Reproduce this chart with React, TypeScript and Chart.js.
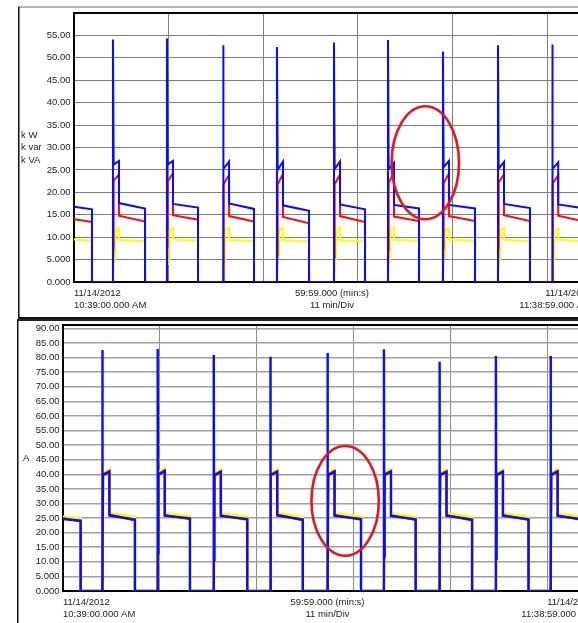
import React, { useEffect, useRef } from 'react';
import { Chart, registerables } from 'chart.js';

Chart.register(...registerables);

const FONT = '"Liberation Sans", Arial, sans-serif';

// ---- shared axis text ----
const startLabel = ['11/14/2012', '10:39:00.000 AM'];
const midLabel = ['59:59.000 (min:s)', '11 min/Div'];
const endLabel = ['11/14/2012', '11:38:59.000 AM'];
const xGridMinutes = [0, 11, 22, 33, 44, 55];

// ---- power panel (kW / kvar / kVA) ----
const powerTitle = ['k W', 'k var', 'k VA'];
const powerTicks = [0, 5, 10, 15, 20, 25, 30, 35, 40, 45, 50, 55];
const powerOn = [4.53, 10.81, 17.33, 23.6, 30.23, 36.51, 42.9, 49.3, 55.6];
const powerOff = [2.09, 8.26, 14.42, 20.93, 27.33, 33.84, 40.12, 46.63, 53.02, 59.4];

const kvaInitial = [16.8, 16.2];
const kvaPeak = [54.1, 54.3, 52.8, 52.4, 53.4, 54.0, 51.4, 52.8, 53.0];
const kvaHighStart = [26.2, 26.2, 25.2, 25.0, 25.2, 25.2, 25.6, 25.3, 25.2];
const kvaHighEnd = [27.0, 27.0, 26.9, 26.9, 26.9, 26.6, 27.0, 26.8, 26.7];
const kvaLowStart = [17.6, 17.4, 17.5, 17.1, 17.3, 17.2, 17.2, 17.4, 17.3];
const kvaLowEnd = [16.4, 16.6, 16.3, 15.9, 16.2, 16.4, 16.4, 16.5, 16.4];

const kwInitial = [14.0, 13.4];
const kwDip = [7.6, 7.8, 6.5, 6.0, 5.6, 7.2, 7.5, 7.6, 7.2];
const kwHighStart = [22.6, 22.4, 21.8, 21.8, 21.8, 22.2, 22.0, 22.2, 22.0];
const kwHighEnd = [24.0, 24.3, 23.9, 24.1, 24.0, 24.3, 24.2, 24.0, 23.8];
const kwLowStart = [14.8, 14.9, 14.7, 14.5, 14.7, 14.6, 14.7, 14.9, 14.8];
const kwLowEnd = [13.5, 13.9, 13.5, 13.1, 13.4, 13.6, 13.6, 13.6, 13.5];

const kvarInitial = [9.5, 9.2];
const kvarRise = [4.5, 4.0, 4.5, 5.5, 5.0, 4.5, 5.5, 5.0, 5.0];
const kvarHighStart = [11.3, 11.5, 11.6, 11.6, 11.5, 11.7, 11.6, 11.6, 11.6];
const kvarHighEnd = [12.0, 12.0, 12.1, 12.0, 12.1, 12.1, 12.0, 12.0, 12.0];
const kvarLowStart = [9.4, 9.5, 9.4, 9.4, 9.3, 9.4, 9.4, 9.4, 9.4];
const kvarLowEnd = [9.1, 9.2, 9.1, 9.0, 9.1, 9.2, 9.2, 9.1, 9.1];

const powerMarker = [40.85, 26.6, 3.92, 12.6]; // centre x (min), centre y, radius x (min), radius y

// ---- current panel (A) ----
const ampTitle = ['A'];
const ampTicks = [0, 5, 10, 15, 20, 25, 30, 35, 40, 45, 50, 55, 60, 65, 70, 75, 80, 85, 90];
const ampOn = [4.46, 10.74, 17.1, 23.5, 30.0, 36.4, 42.7, 49.1, 55.3];
const ampOff = [2.0, 8.16, 14.4, 20.9, 27.2, 33.8, 40.0, 46.4, 52.8, 59.1];

const ampBlueInitial = [24.7, 24.1];
const ampBluePeak = [82.6, 83.0, 80.9, 80.3, 81.6, 82.9, 78.6, 80.6, 80.6];
const ampBlueDip = [16.9, 13.0, 10.6, 16.5, 10.6, 11.8, 11.0, 11.0, 11.3];
const ampBlueHighStart = [39.7, 39.9, 39.6, 39.7, 39.7, 39.8, 39.7, 39.7, 39.8];
const ampBlueHighEnd = [40.9, 41.1, 40.8, 40.8, 40.9, 40.9, 40.8, 40.8, 40.9];
const ampBlueLowStart = [25.9, 25.8, 25.7, 25.9, 25.8, 25.7, 25.8, 25.8, 25.7];
const ampBlueLowEnd = [24.5, 24.9, 24.7, 24.5, 24.7, 24.6, 24.5, 24.6, 24.5];

const ampRedInitial = [25.0, 23.8];
const ampRedHighStart = [40.0, 40.2, 39.9, 40.0, 40.0, 40.1, 40.0, 40.0, 40.1];
const ampRedHighEnd = [41.2, 41.4, 41.1, 41.1, 41.2, 41.2, 41.1, 41.1, 41.2];
const ampRedLowStart = [26.2, 26.1, 26.0, 26.2, 26.1, 26.0, 26.1, 26.1, 26.0];
const ampRedLowEnd = [24.2, 24.6, 24.4, 24.2, 24.4, 24.3, 24.2, 24.3, 24.2];

const ampYellowInitial = [25.5, 24.9];
const ampYellowHighStart = [40.6, 40.7, 40.4, 40.5, 40.5, 40.6, 40.5, 40.5, 40.6];
const ampYellowHighEnd = [41.7, 41.9, 41.6, 41.6, 41.7, 41.7, 41.6, 41.6, 41.7];
const ampYellowLowStart = [26.8, 26.7, 26.6, 26.8, 26.7, 26.6, 26.7, 26.7, 26.6];
const ampYellowLowEnd = [25.3, 25.7, 25.5, 25.3, 25.5, 25.4, 25.3, 25.4, 25.3];

const ampMarker = [32.0, 30.9, 3.82, 18.8];

// ---- series builder ----
type Pt = { x: number; y: number };
interface Shape {
  initial: number[];
  peak?: number[];
  dip?: number[];
  rise?: number[];
  highStart: number[];
  highEnd: number[];
  lowStart: number[];
  lowEnd: number[];
}

function buildSeries(on: number[], off: number[], highDur: number, riseDelay: number, s: Shape): Pt[] {
  const pts: Pt[] = [
    { x: 0, y: s.initial[0] },
    { x: off[0], y: s.initial[1] },
    { x: off[0], y: 0 },
  ];
  on.forEach((t, i) => {
    pts.push({ x: t, y: 0 });
    let hs = t + 0.08;
    if (s.peak) pts.push({ x: t, y: s.peak[i] });
    if (s.dip) pts.push({ x: t + 0.04, y: s.dip[i] });
    if (s.rise) {
      pts.push({ x: t, y: s.rise[i] });
      pts.push({ x: t + riseDelay, y: s.rise[i] });
      hs = t + riseDelay;
    }
    pts.push({ x: hs, y: s.highStart[i] });
    pts.push({ x: t + highDur, y: s.highEnd[i] });
    pts.push({ x: t + highDur, y: s.lowStart[i] });
    const end = off[i + 1];
    pts.push({ x: end, y: s.lowEnd[i] });
    pts.push({ x: end, y: 0 });
  });
  return pts;
}

const BLUE = '#0a0aff';
const RED = '#ff0a0a';
const YELLOW = '#ffff00';

function fmtTick(v: number) {
  return v < 10 ? v.toFixed(3) : v.toFixed(2);
}

interface PanelSpec {
  left: number;
  top: number;
  w: number;
  h: number;
  padTop: number;
  padRight: number;
  yWidth: number;
  xHeight: number;
  yMax: number;
  yTicks: number[];
  title: string[];
  titleX: number;
  gridColor: string;
  gridWidth: number;
  vGridColor: string;
  frame: Array<[number, number, number, number, string]>;
  marker: number[];
  datasets: Array<{ data: Pt[]; color: string; width: number }>;
}

function makeChart(canvas: HTMLCanvasElement, spec: PanelSpec) {
  const framePlugin = {
    id: 'frame',
    beforeDraw(chart: any) {
      const ctx = chart.ctx;
      ctx.save();
      ctx.fillStyle = '#fff';
      ctx.fillRect(0, 0, chart.width, chart.height);
      spec.frame.forEach(([x, y, w, h, c]) => {
        ctx.fillStyle = c;
        ctx.fillRect(x, y, w, h);
      });
      ctx.restore();
    },
  };
  const borderPlugin = {
    id: 'plotBorder',
    beforeDatasetsDraw(chart: any) {
      const { ctx, chartArea: a } = chart;
      ctx.save();
      ctx.strokeStyle = '#000';
      ctx.lineWidth = 2;
      ctx.beginPath();
      ctx.moveTo(a.right + 5, a.top);
      ctx.lineTo(a.left, a.top);
      ctx.lineTo(a.left, a.bottom);
      ctx.lineTo(a.right + 5, a.bottom);
      ctx.stroke();
      ctx.restore();
    },
  };
  const markerPlugin = {
    id: 'marker',
    afterDatasetsDraw(chart: any) {
      const { ctx } = chart;
      const xs = chart.scales.x;
      const ys = chart.scales.y;
      const [cx, cy, rx, ry] = spec.marker;
      const px = xs.getPixelForValue(cx);
      const py = ys.getPixelForValue(cy);
      const prx = Math.abs(xs.getPixelForValue(cx + rx) - px);
      const pry = Math.abs(ys.getPixelForValue(cy + ry) - py);
      ctx.save();
      ctx.strokeStyle = '#e8141c';
      ctx.lineWidth = 2.6;
      ctx.beginPath();
      ctx.ellipse(px, py, prx, pry, 0, 0, Math.PI * 2);
      ctx.stroke();
      ctx.restore();
    },
  };
  const textPlugin = {
    id: 'texts',
    afterDraw(chart: any) {
      const { ctx, chartArea: a } = chart;
      ctx.save();
      ctx.fillStyle = '#222';
      ctx.font = `9.5px ${FONT}`;
      ctx.textBaseline = 'middle';
      const midY = (a.top + a.bottom) / 2;
      const n = spec.title.length;
      spec.title.forEach((t, i) => {
        ctx.textAlign = 'left';
        ctx.fillText(t, spec.titleX, midY + (i - (n - 1) / 2) * 12.5);
      });
      const y1 = a.bottom + 11.5;
      const y2 = a.bottom + 23.2;
      ctx.textAlign = 'left';
      ctx.fillText(startLabel[0], a.left, y1);
      ctx.fillText(startLabel[1], a.left, y2);
      ctx.textAlign = 'center';
      const cx = (a.left + a.right) / 2;
      ctx.fillText(midLabel[0], cx, y1);
      ctx.fillText(midLabel[1], cx, y2);
      ctx.textAlign = 'right';
      ctx.fillText(endLabel[0], a.right + 2, y1);
      ctx.fillText(endLabel[1], a.right + 1, y2);
      ctx.restore();
    },
  };

  return new Chart(canvas, {
    type: 'line',
    data: {
      datasets: spec.datasets.map((d) => ({
        data: d.data,
        borderColor: d.color,
        backgroundColor: d.color,
        borderWidth: d.width,
        pointRadius: 0,
        tension: 0,
        fill: false,
      })),
    },
    options: {
      animation: false,
      responsive: false,
      maintainAspectRatio: false,
      events: [],
      layout: { padding: { top: spec.padTop, right: spec.padRight, bottom: 0, left: 0 } },
      plugins: { legend: { display: false }, tooltip: { enabled: false } },
      scales: {
        x: {
          type: 'linear',
          min: 0,
          max: 60,
          afterBuildTicks: (s: any) => {
            s.ticks = xGridMinutes.map((v) => ({ value: v }));
          },
          afterFit: (s: any) => {
            s.height = spec.xHeight;
          },
          ticks: { display: false },
          grid: { color: spec.vGridColor, lineWidth: 1, drawTicks: false },
          border: { display: false },
        },
        y: {
          type: 'linear',
          min: 0,
          max: spec.yMax,
          afterBuildTicks: (s: any) => {
            s.ticks = spec.yTicks.map((v) => ({ value: v }));
          },
          afterFit: (s: any) => {
            s.width = spec.yWidth;
          },
          ticks: {
            callback: (v: any) => fmtTick(Number(v)),
            font: { family: FONT, size: 9.5 },
            color: '#222',
            padding: 0,
          },
          grid: {
            color: spec.gridColor,
            lineWidth: spec.gridWidth,
            drawTicks: true,
            tickLength: 3.5,
            tickColor: 'rgba(0,0,0,0)',
          },
          border: { display: false },
        },
      },
    } as any,
    plugins: [framePlugin, borderPlugin, markerPlugin, textPlugin],
  });
}

const powerSpec: PanelSpec = {
  left: 17,
  top: 6,
  w: 600,
  h: 313,
  padTop: 7,
  padRight: 27,
  yWidth: 57,
  xHeight: 37,
  yMax: 60,
  yTicks: powerTicks,
  title: powerTitle,
  titleX: 4,
  gridColor: '#7e7e7e',
  gridWidth: 1,
  vGridColor: '#808080',
  frame: [
    [1, 0, 600, 2, '#b4b4b4'],
    [1, 1, 1.5, 311, '#111'],
    [1, 311, 600, 2, '#111'],
  ],
  marker: powerMarker,
  datasets: [
    {
      data: buildSeries(powerOn, powerOff, 0.7, 0.25, {
        initial: kvaInitial,
        peak: kvaPeak,
        highStart: kvaHighStart,
        highEnd: kvaHighEnd,
        lowStart: kvaLowStart,
        lowEnd: kvaLowEnd,
      }),
      color: BLUE,
      width: 2,
    },
    {
      data: buildSeries(powerOn, powerOff, 0.7, 0.25, {
        initial: kwInitial,
        dip: kwDip,
        highStart: kwHighStart,
        highEnd: kwHighEnd,
        lowStart: kwLowStart,
        lowEnd: kwLowEnd,
      }),
      color: RED,
      width: 2,
    },
    {
      data: buildSeries(powerOn, powerOff, 0.7, 0.25, {
        initial: kvarInitial,
        rise: kvarRise,
        highStart: kvarHighStart,
        highEnd: kvarHighEnd,
        lowStart: kvarLowStart,
        lowEnd: kvarLowEnd,
      }),
      color: YELLOW,
      width: 2,
    },
  ],
};

const ampSpec: PanelSpec = {
  left: 17,
  top: 319,
  w: 600,
  h: 304,
  padTop: 6,
  padRight: 25,
  yWidth: 46,
  xHeight: 32,
  yMax: 91.2,
  yTicks: ampTicks,
  title: ampTitle,
  titleX: 6,
  gridColor: '#a0a0a0',
  gridWidth: 1.6,
  vGridColor: '#8c8c8c',
  frame: [
    [0, 0, 600, 2, '#222'],
    [0, 0, 1.5, 304, '#111'],
  ],
  marker: ampMarker,
  datasets: [
    {
      data: buildSeries(ampOn, ampOff, 0.8, 0, {
        initial: ampBlueInitial,
        peak: ampBluePeak,
        dip: ampBlueDip,
        highStart: ampBlueHighStart,
        highEnd: ampBlueHighEnd,
        lowStart: ampBlueLowStart,
        lowEnd: ampBlueLowEnd,
      }),
      color: BLUE,
      width: 2.4,
    },
    {
      data: buildSeries(ampOn, ampOff, 0.8, 0, {
        initial: ampRedInitial,
        highStart: ampRedHighStart,
        highEnd: ampRedHighEnd,
        lowStart: ampRedLowStart,
        lowEnd: ampRedLowEnd,
      }),
      color: RED,
      width: 2,
    },
    {
      data: buildSeries(ampOn, ampOff, 0.8, 0, {
        initial: ampYellowInitial,
        highStart: ampYellowHighStart,
        highEnd: ampYellowHighEnd,
        lowStart: ampYellowLowStart,
        lowEnd: ampYellowLowEnd,
      }),
      color: YELLOW,
      width: 2.8,
    },
  ],
};

function Panel({ spec }: { spec: PanelSpec }) {
  const ref = useRef<HTMLCanvasElement>(null);
  useEffect(() => {
    const chart = makeChart(ref.current as HTMLCanvasElement, spec);
    return () => chart.destroy();
  }, [spec]);
  return (
    <canvas
      ref={ref}
      width={spec.w}
      height={spec.h}
      style={{ position: 'absolute', left: spec.left, top: spec.top, width: spec.w, height: spec.h, display: 'block' }}
    />
  );
}

export default function App() {
  return (
    <div
      style={{
        position: 'fixed',
        left: 0,
        top: 0,
        width: 578,
        height: 623,
        overflow: 'hidden',
        background: '#fff',
      }}
    >
      <Panel spec={powerSpec} />
      <Panel spec={ampSpec} />
    </div>
  );
}
